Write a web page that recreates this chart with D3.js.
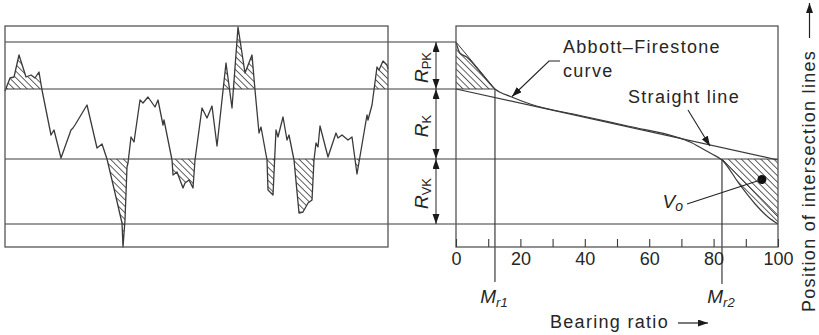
<!DOCTYPE html>
<html>
<head>
<meta charset="utf-8">
<title>Abbott-Firestone</title>
<script src="https://cdn.jsdelivr.net/npm/d3@7"></script>
<style>
  body { margin: 0; background: #fff; }
  text { font-family: "Liberation Sans", Arial, sans-serif; fill: #262626; }
</style>
</head>
<body>
<svg width="819" height="335" id="mainsvg"></svg>
<script>
// roughness profile: position along sampling length (mm) and height (µm)
const profilePos = [0.00, 0.05, 0.09, 0.14, 0.21, 0.26, 0.30, 0.34, 0.37, 0.46, 0.49, 0.56, 0.66, 0.68, 0.70, 0.73,
  0.82, 0.92, 0.97, 1.02, 1.10, 1.17, 1.18, 1.20, 1.22, 1.23, 1.26, 1.29, 1.35, 1.38, 1.43, 1.50, 1.53, 1.58, 1.59,
  1.67, 1.68, 1.72, 1.78, 1.80, 1.84, 1.88, 1.90, 1.97, 2.02, 2.07, 2.12, 2.21, 2.27, 2.33, 2.40, 2.47, 2.50, 2.54,
  2.56, 2.62, 2.63, 2.68, 2.71, 2.73, 2.78, 2.82, 2.84, 2.89, 2.94, 2.98, 3.03, 3.07, 3.09, 3.11, 3.13, 3.15, 3.23,
  3.31, 3.33, 3.37, 3.43, 3.47, 3.52, 3.62, 3.63, 3.67, 3.72, 3.74, 3.78, 3.82, 3.83];
const profileHeight = [6.8, 8.1, 8.2, 10.4, 8.2, 8.4, 8.1, 8.7, 6.9, 2.4, 2.9, 0.1, 2.9, 3.1, 3.4, 3.9,
  5.4, 1.1, 1.5, 0.0, -3.4, -6.4, -8.8, -6.1, -0.8, -0.4, 2.2, 1.7, 5.9, 5.6, 6.2, 5.2, 5.9, 3.4, 3.9,
  -0.1, -1.6, -1.3, -2.9, -2.4, -2.1, -2.9, -0.1, 5.1, 4.1, 5.3, 1.3, 9.6, 5.1, 13.2, 8.6, 10.4, 6.9, 2.6,
  3.2, -0.1, -3.1, -3.6, 2.9, 2.2, 4.2, 1.9, 2.4, -0.1, -5.4, -5.3, -4.4, -4.1, -0.1, 1.6, 1.2, 3.3, 0.2,
  2.6, 2.1, 2.4, 1.9, 2.2, -1.5, 4.4, 3.9, 5.4, 9.2, 8.9, 9.8, 9.4, 9.0];

// Abbott-Firestone curve: bearing ratio (%) and height (µm)
const bearingPct = [0, 1.2, 3.3, 7.5, 12.1, 17.3, 23, 38.5, 54, 68.5, 72.7, 76.7, 79.5, 82.6, 88.2, 92.9, 96.9, 100];
const abbottHeight = [11.7, 10.6, 10.2, 8.7, 7.0, 6.2, 5.5, 4.35, 3.25, 2.2, 1.7, 1.0, 0.5, -0.1, -2.6, -4.5, -5.8, -6.5];

// equivalent straight line (bearing %, height)
const straightPct = [0, 100];
const straightHeight = [7.0, -0.1];

// intersection line heights: top of Rpk, Rpk/Rk, Rk/Rvk, bottom of Rvk
const levels = [11.7, 7.0, 0, -6.5];
const levelNames = ['PK', 'K', 'VK'];
const mrValues = [12.1, 82.6];
const mrNames = ['r1', 'r2'];
const tickVals = [0, 10, 20, 30, 40, 50, 60, 70, 80, 90, 100];
const voPoint = [95, -2.05];

const svg = d3.select('#mainsvg');
const ink = '#3a3a3a';

const y = d3.scaleLinear().domain([-8.8, 13.3]).range([247, 26]);
const xL = d3.scaleLinear().domain([0, 3.83]).range([5, 388]);
const xR = d3.scaleLinear().domain([0, 100]).range([456, 778]);

const defs = svg.append('defs');
defs.append('pattern').attr('id', 'hatch')
  .attr('patternUnits', 'userSpaceOnUse')
  .attr('width', 4.6).attr('height', 4.6)
  .attr('patternTransform', 'rotate(-45)')
  .append('line')
  .attr('x1', 2.3).attr('y1', 0).attr('x2', 2.3).attr('y2', 4.6)
  .attr('stroke', ink).attr('stroke-width', 0.8);

defs.append('marker').attr('id', 'arr')
  .attr('markerUnits', 'userSpaceOnUse')
  .attr('markerWidth', 11).attr('markerHeight', 8)
  .attr('refX', 10).attr('refY', 3.5)
  .attr('orient', 'auto-start-reverse')
  .append('path').attr('d', 'M0,0 L10,3.5 L0,7 Z').attr('fill', '#1a1a1a');

function clip(id, x0, y0, x1, y1) {
  defs.append('clipPath').attr('id', id).append('rect')
    .attr('x', x0).attr('y', y0).attr('width', x1 - x0).attr('height', y1 - y0);
}
clip('clipPeak', xL(0), y(13.3), xL(3.83), y(levels[1]));
clip('clipValley', xL(0), y(levels[2]), xL(3.83), y(-8.8));
clip('clipAPeak', xR(0), y(13.3), xR(mrValues[0]), y(levels[1]));
clip('clipAValley', xR(mrValues[1]), y(levels[2]), xR(100), y(-8.8));

// ---- left: profile ----
const profile = profilePos.map((p, i) => ({ x: p, z: profileHeight[i] }));
const gL = svg.append('g');

[[levels[1], 'clipPeak'], [levels[2], 'clipValley']].forEach(([lv, cid]) => {
  gL.append('path').datum(profile)
    .attr('d', d3.area().x(d => xL(d.x)).y0(y(lv)).y1(d => y(d.z)))
    .attr('fill', 'url(#hatch)').attr('clip-path', `url(#${cid})`);
});

gL.append('path').datum(profile)
  .attr('d', d3.line().x(d => xL(d.x)).y(d => y(d.z)))
  .attr('fill', 'none').attr('stroke', ink).attr('stroke-width', 1.3).attr('stroke-linejoin', 'round');

// ---- right: bearing curve ----
const abbott = bearingPct.map((p, i) => ({ p: p, z: abbottHeight[i] }));
const gR = svg.append('g');

[[levels[1], 'clipAPeak'], [levels[2], 'clipAValley']].forEach(([lv, cid]) => {
  gR.append('path').datum(abbott)
    .attr('d', d3.area().curve(d3.curveMonotoneX).x(d => xR(d.p)).y0(y(lv)).y1(d => y(d.z)))
    .attr('fill', 'url(#hatch)').attr('clip-path', `url(#${cid})`);
});

gR.append('path').datum(abbott)
  .attr('d', d3.line().curve(d3.curveMonotoneX).x(d => xR(d.p)).y(d => y(d.z)))
  .attr('fill', 'none').attr('stroke', ink).attr('stroke-width', 1.2);

gR.append('line')
  .attr('x1', xR(straightPct[0])).attr('y1', y(straightHeight[0]))
  .attr('x2', xR(straightPct[1])).attr('y2', y(straightHeight[1]))
  .attr('stroke', ink).attr('stroke-width', 1.2);

// triangle hypotenuses
[[0, levels[0], mrValues[0], levels[1]], [mrValues[1], levels[2], 100, -5.8]].forEach(t => {
  gR.append('line')
    .attr('x1', xR(t[0])).attr('y1', y(t[1])).attr('x2', xR(t[2])).attr('y2', y(t[3]))
    .attr('stroke', ink).attr('stroke-width', 1);
});

// intersection lines
const lineEnds = [xR(0), xR(mrValues[0]), xR(100), xR(100)];
levels.forEach((lv, i) => {
  svg.append('line')
    .attr('x1', xL(0)).attr('x2', lineEnds[i])
    .attr('y1', y(lv)).attr('y2', y(lv))
    .attr('stroke', ink).attr('stroke-width', 1.2);
});

// Mr verticals
const mrStart = [levels[1], levels[2]];
const mrBottom = [282, 284];
mrValues.forEach((m, i) => {
  svg.append('line')
    .attr('x1', xR(m)).attr('x2', xR(m))
    .attr('y1', y(mrStart[i])).attr('y2', mrBottom[i])
    .attr('stroke', ink).attr('stroke-width', 1.2);
  const t = svg.append('text').attr('x', xR(m) - 1).attr('y', 303)
    .attr('text-anchor', 'middle').attr('font-size', 19).attr('font-style', 'italic');
  t.append('tspan').text('M');
  t.append('tspan').attr('font-size', 13).attr('dy', 4).text(mrNames[i]);
});

// frames
svg.append('rect').attr('x', xL(0)).attr('y', y(13.3))
  .attr('width', xL(3.83) - xL(0)).attr('height', y(-8.8) - y(13.3))
  .attr('fill', 'none').attr('stroke', '#555').attr('stroke-width', 1.3);
svg.append('rect').attr('x', xR(0)).attr('y', y(13.3))
  .attr('width', xR(100) - xR(0)).attr('height', y(-8.8) - y(13.3))
  .attr('fill', 'none').attr('stroke', '#555').attr('stroke-width', 1.3);

// x axis (ticks inside the frame)
const xAxis = d3.axisBottom(xR).tickValues(tickVals)
  .tickSizeInner(-8).tickSizeOuter(0).tickPadding(5)
  .tickFormat(d => d % 20 === 0 ? d : '');
const axG = svg.append('g').attr('transform', `translate(0,${y(-8.8)})`).call(xAxis);
axG.select('.domain').remove();
axG.selectAll('.tick line').attr('stroke', ink).attr('stroke-width', 1.1);
axG.selectAll('.tick text').attr('font-size', 18).attr('fill', '#262626')
  .attr('font-family', '"Liberation Sans", Arial, sans-serif');

// dimension arrows Rpk / Rk / Rvk
const dimX = 436;
levelNames.forEach((nm, i) => {
  svg.append('line')
    .attr('x1', dimX).attr('x2', dimX)
    .attr('y1', y(levels[i])).attr('y2', y(levels[i + 1]))
    .attr('stroke', ink).attr('stroke-width', 1.1)
    .attr('marker-start', 'url(#arr)').attr('marker-end', 'url(#arr)');
  const mid = (y(levels[i]) + y(levels[i + 1])) / 2;
  const t = svg.append('text')
    .attr('transform', `translate(428,${mid + 2}) rotate(-90)`)
    .attr('text-anchor', 'middle').attr('font-size', 19);
  t.append('tspan').attr('font-style', 'italic').text('R');
  t.append('tspan').attr('font-size', 13).attr('dy', 3).text(nm);
});

// annotations
function label(x, yy, s) {
  return svg.append('text').attr('x', x).attr('y', yy)
    .attr('font-size', 18).attr('letter-spacing', '1.3px').text(s);
}
label(563, 53, 'Abbott–Firestone');
label(563, 77, 'curve');
label(628, 103, 'Straight line');

svg.append('path').attr('d', 'M560,61 L549,61 L512,96.5')
  .attr('fill', 'none').attr('stroke', '#222').attr('stroke-width', 1.1)
  .attr('marker-end', 'url(#arr)');
svg.append('line').attr('x1', 688).attr('y1', 110).attr('x2', 710).attr('y2', 146)
  .attr('stroke', '#222').attr('stroke-width', 1.1).attr('marker-end', 'url(#arr)');

// Vo
svg.append('circle').attr('cx', xR(voPoint[0])).attr('cy', y(voPoint[1]))
  .attr('r', 4.5).attr('fill', '#111');
svg.append('line').attr('x1', 687).attr('y1', 204)
  .attr('x2', xR(voPoint[0])).attr('y2', y(voPoint[1]))
  .attr('stroke', '#222').attr('stroke-width', 1.1);
const vo = svg.append('text').attr('x', 683).attr('y', 208)
  .attr('text-anchor', 'end').attr('font-size', 19).attr('font-style', 'italic');
vo.append('tspan').text('V');
vo.append('tspan').attr('font-size', 14).attr('dy', 3).text('o');

// axis titles
label(550, 328, 'Bearing ratio');
svg.append('line').attr('x1', 678).attr('y1', 323).attr('x2', 708).attr('y2', 323)
  .attr('stroke', '#222').attr('stroke-width', 1.2).attr('marker-end', 'url(#arr)');

svg.append('text').attr('transform', 'translate(815,312) rotate(-90)')
  .attr('font-size', 18).attr('letter-spacing', '1.3px')
  .text('Position of intersection lines');
svg.append('line').attr('x1', 809.5).attr('y1', 38).attr('x2', 809.5).attr('y2', 3)
  .attr('stroke', '#222').attr('stroke-width', 1.2).attr('marker-end', 'url(#arr)');
</script>
</body>
</html>
